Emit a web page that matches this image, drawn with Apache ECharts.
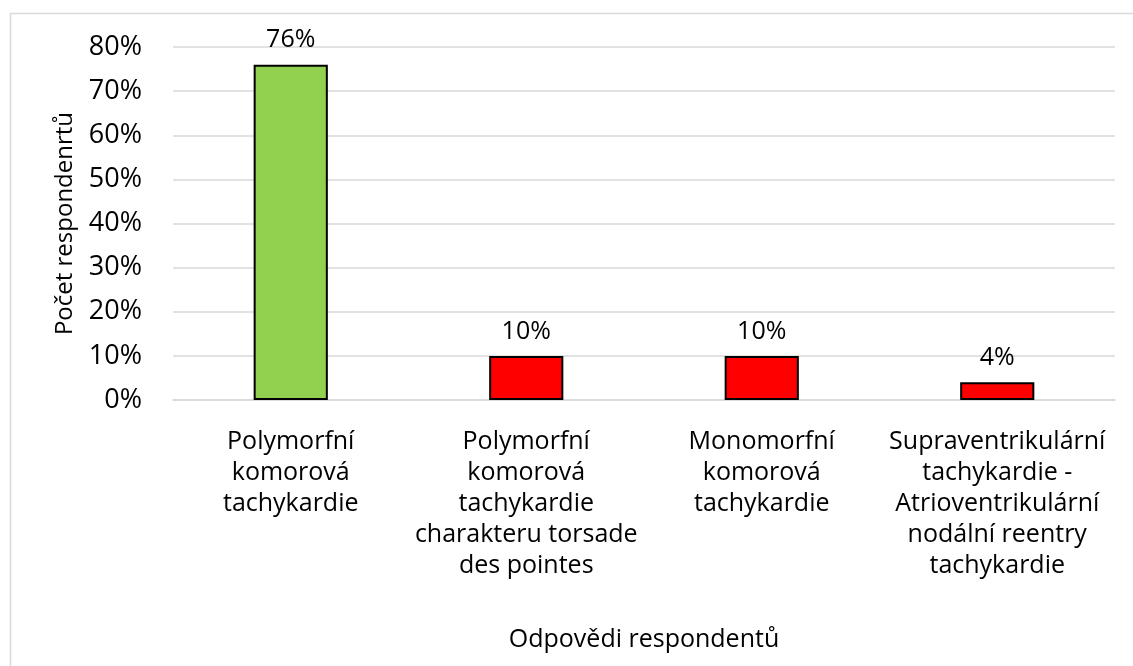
<!DOCTYPE html>
<html>
<head>
<meta charset="utf-8">
<script src="https://cdn.jsdelivr.net/npm/echarts@6/dist/echarts.min.js"></script>
<style>
  html, body { margin: 0; padding: 0; background: #fff; }
  #main { width: 1133px; height: 666px; }
</style>
</head>
<body>
<div id="main"></div>
<script>
// data
const categories = [
  'Polymorfní\nkomorová\ntachykardie',
  'Polymorfní\nkomorová\ntachykardie\ncharakteru torsade\ndes pointes',
  'Monomorfní\nkomorová\ntachykardie',
  'Supraventrikulární\ntachykardie -\nAtrioventrikulární\nnodální reentry\ntachykardie'
];
const values = [76, 10, 10, 4];
const barColors = ['#92D050', '#FF0000', '#FF0000', '#FF0000'];

const font = '"Open Sans", sans-serif';

const myChart = echarts.init(document.getElementById('main'));
myChart.setOption({
  animation: false,
  graphic: [{
    type: 'rect',
    shape: { x: 10.5, y: 13.5, width: 1140, height: 700 },
    style: { fill: 'none', stroke: '#d9d9d9', lineWidth: 1.5 }
  }],
  grid: { left: 173, right: 18, top: 47, bottom: 266 },
  xAxis: {
    type: 'category',
    data: categories,
    name: 'Odpovědi respondentů',
    nameLocation: 'middle',
    nameGap: 227,
    nameTextStyle: { fontFamily: font, fontSize: 25, color: '#000' },
    axisLine: { lineStyle: { color: '#d9d9d9', width: 1.5 } },
    axisTick: { show: false },
    axisLabel: {
      interval: 0, margin: 26, fontFamily: font, fontSize: 25,
      color: '#000', lineHeight: 31
    }
  },
  yAxis: {
    type: 'value',
    min: 0, max: 80, interval: 10,
    name: 'Počet respondenrtů',
    nameLocation: 'middle',
    nameGap: 96,
    nameTextStyle: { fontFamily: font, fontSize: 24, color: '#000' },
    axisLine: { show: false },
    axisTick: { show: false },
    axisLabel: {
      margin: 31, fontFamily: font, fontSize: 27, color: '#000',
      formatter: v => v + '%'
    },
    splitLine: { lineStyle: { color: '#d9d9d9', width: 1.5 } }
  },
  series: [{
    type: 'bar',
    barWidth: '31.5%',
    data: values.map((v, i) => ({
      value: v,
      itemStyle: { color: barColors[i], borderColor: '#000', borderWidth: 2 }
    })),
    label: {
      show: true, position: 'top', distance: 12,
      fontFamily: font, fontSize: 25, color: '#000',
      formatter: p => p.value + '%'
    }
  }]
});
</script>
</body>
</html>
